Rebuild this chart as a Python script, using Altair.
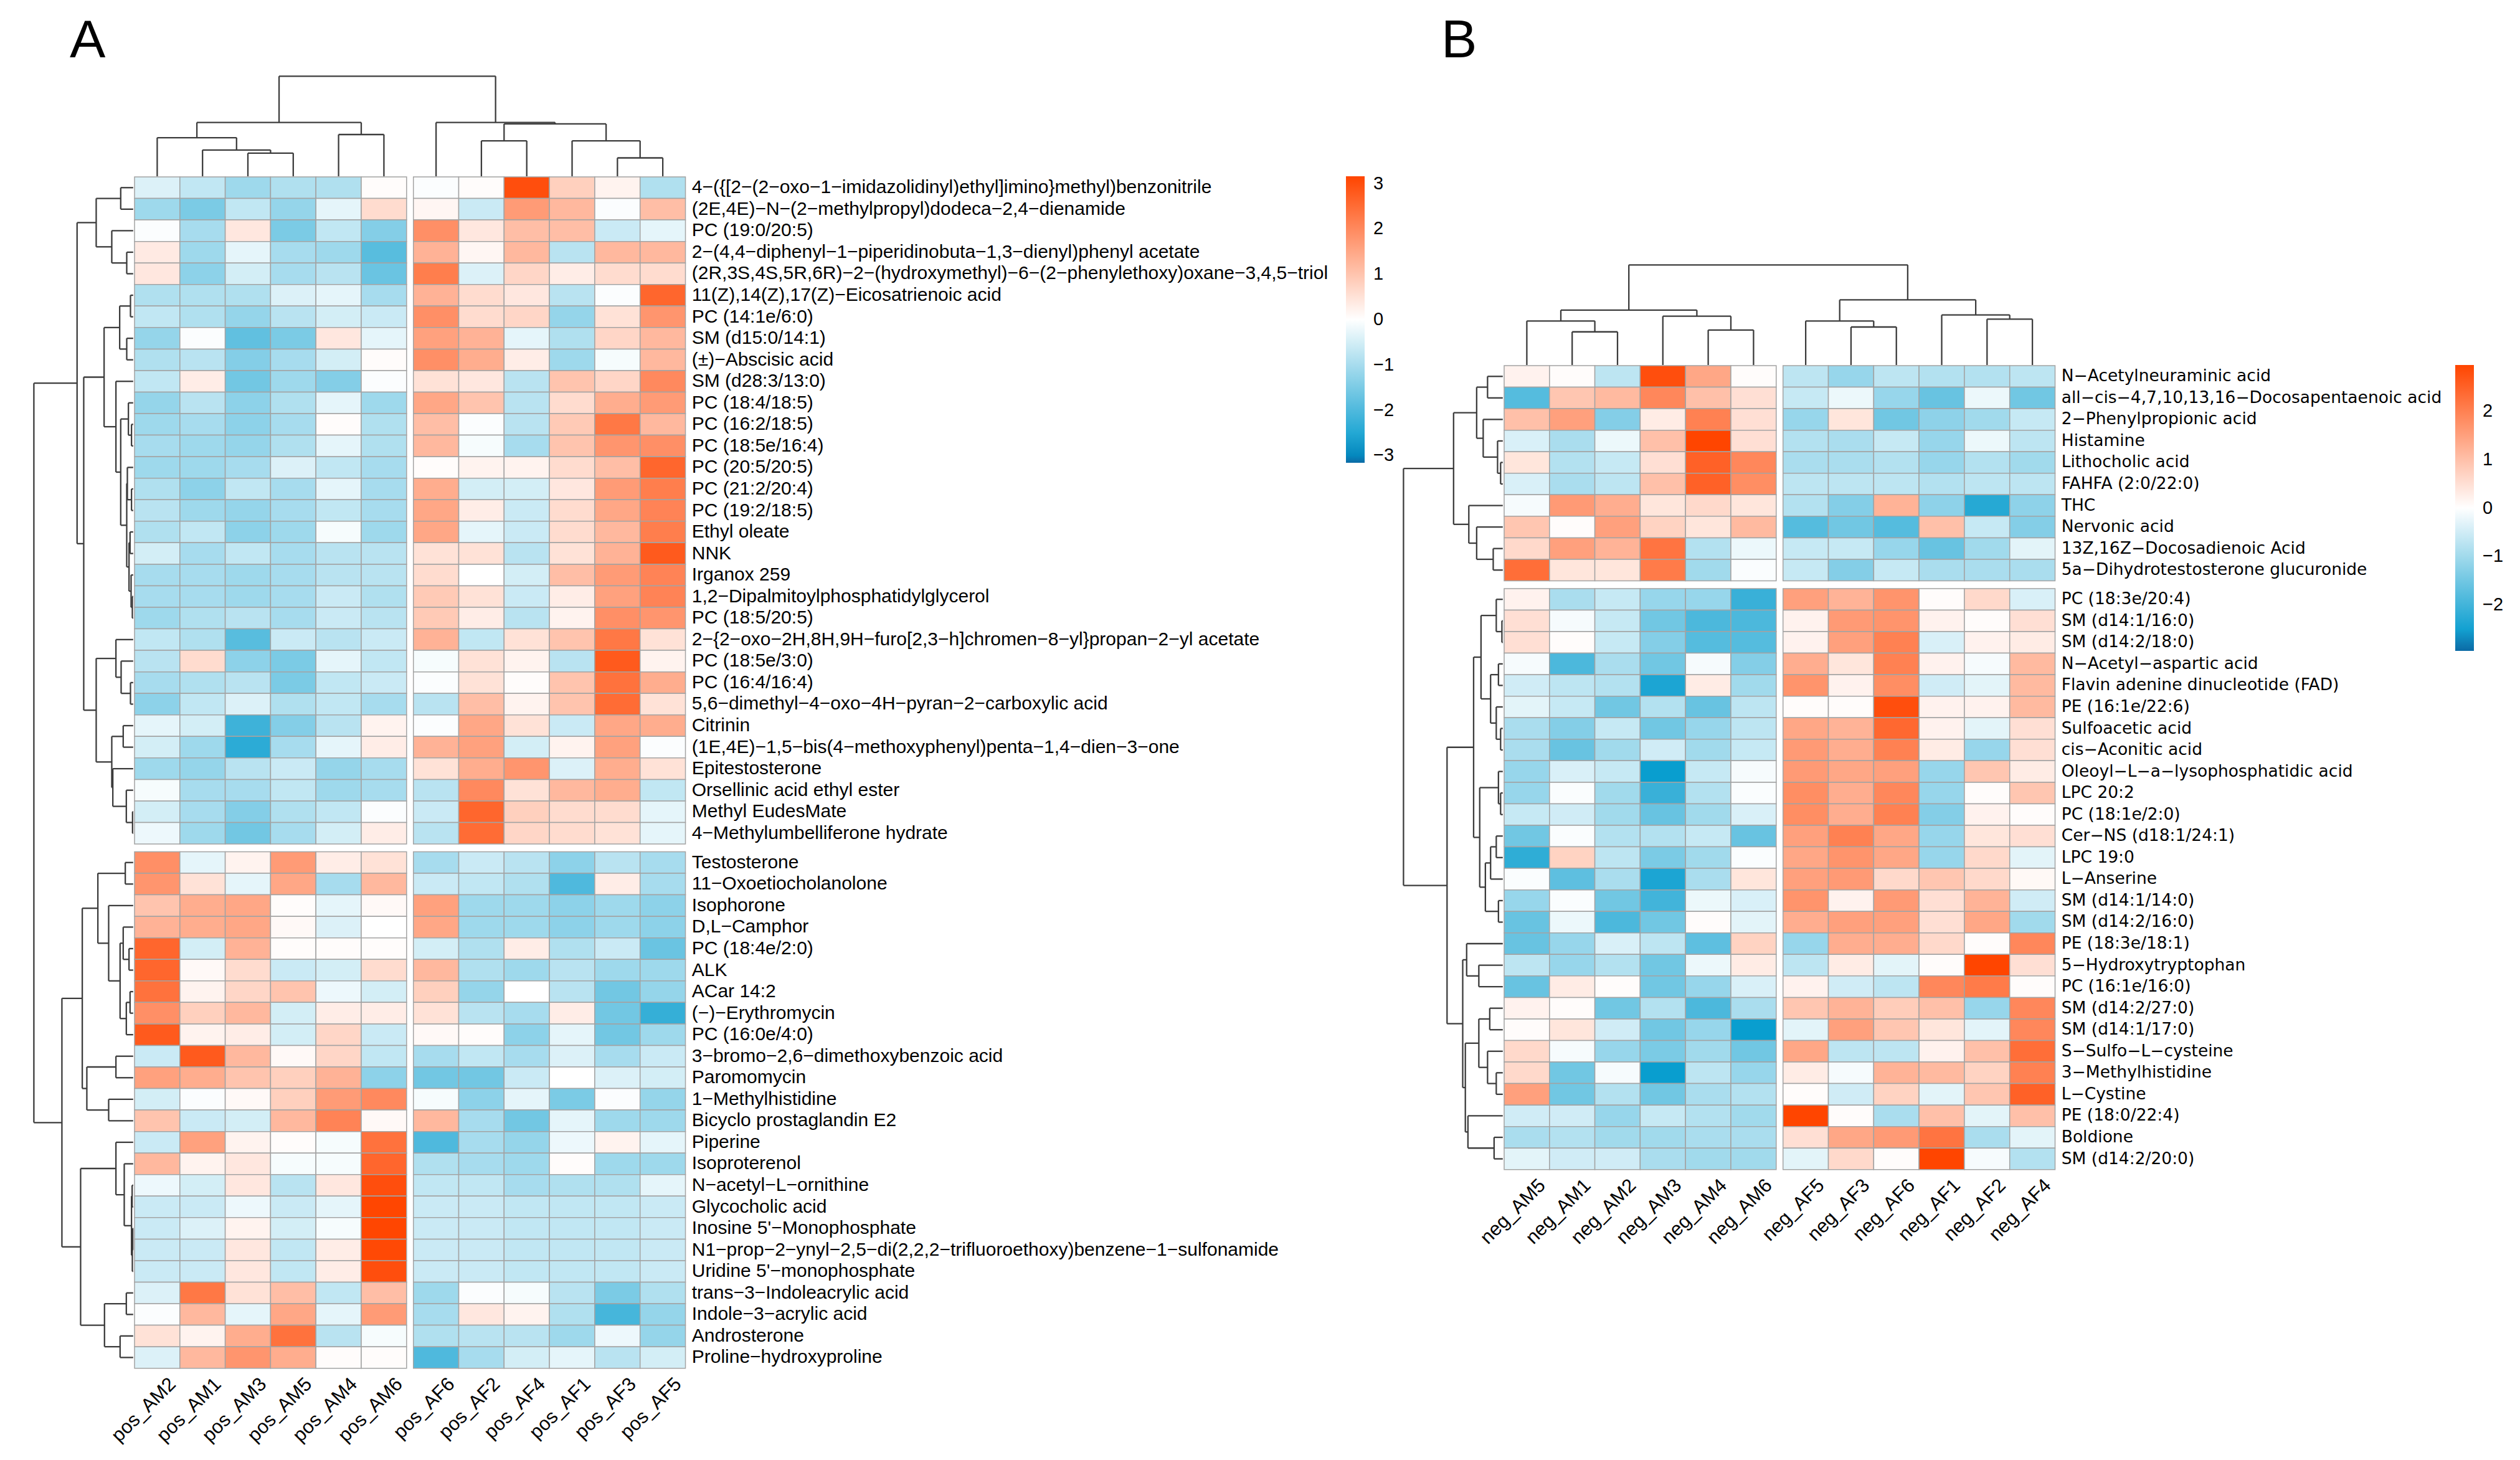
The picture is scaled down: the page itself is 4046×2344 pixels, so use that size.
import altair as alt
import pandas as pd

# ---------------- data ----------------
A_cols = ["pos_AM2", "pos_AM1", "pos_AM3", "pos_AM5", "pos_AM4", "pos_AM6",
          "pos_AF6", "pos_AF2", "pos_AF4", "pos_AF1", "pos_AF3", "pos_AF5"]
A_rows = [
    "4-({[2-(2-oxo-1-imidazolidinyl)ethyl]imino}methyl)benzonitrile",
    "(2E,4E)-N-(2-methylpropyl)dodeca-2,4-dienamide",
    "PC (19:0/20:5)",
    "2-(4,4-diphenyl-1-piperidinobuta-1,3-dienyl)phenyl acetate",
    "(2R,3S,4S,5R,6R)-2-(hydroxymethyl)-6-(2-phenylethoxy)oxane-3,4,5-triol",
    "11(Z),14(Z),17(Z)-Eicosatrienoic acid",
    "PC (14:1e/6:0)",
    "SM (d15:0/14:1)",
    "(±)-Abscisic acid",
    "SM (d28:3/13:0)",
    "PC (18:4/18:5)",
    "PC (16:2/18:5)",
    "PC (18:5e/16:4)",
    "PC (20:5/20:5)",
    "PC (21:2/20:4)",
    "PC (19:2/18:5)",
    "Ethyl oleate",
    "NNK",
    "Irganox 259",
    "1,2-Dipalmitoylphosphatidylglycerol",
    "PC (18:5/20:5)",
    "2-{2-oxo-2H,8H,9H-furo[2,3-h]chromen-8-yl}propan-2-yl acetate",
    "PC (18:5e/3:0)",
    "PC (16:4/16:4)",
    "5,6-dimethyl-4-oxo-4H-pyran-2-carboxylic acid",
    "Citrinin",
    "(1E,4E)-1,5-bis(4-methoxyphenyl)penta-1,4-dien-3-one",
    "Epitestosterone",
    "Orsellinic acid ethyl ester",
    "Methyl EudesMate",
    "4-Methylumbelliferone hydrate",
    "Testosterone",
    "11-Oxoetiocholanolone",
    "Isophorone",
    "D,L-Camphor",
    "PC (18:4e/2:0)",
    "ALK",
    "ACar 14:2",
    "(-)-Erythromycin",
    "PC (16:0e/4:0)",
    "3-bromo-2,6-dimethoxybenzoic acid",
    "Paromomycin",
    "1-Methylhistidine",
    "Bicyclo prostaglandin E2",
    "Piperine",
    "Isoproterenol",
    "N-acetyl-L-ornithine",
    "Glycocholic acid",
    "Inosine 5'-Monophosphate",
    "N1-prop-2-ynyl-2,5-di(2,2,2-trifluoroethoxy)benzene-1-sulfonamide",
    "Uridine 5'-monophosphate",
    "trans-3-Indoleacrylic acid",
    "Indole-3-acrylic acid",
    "Androsterone",
    "Proline-hydroxyproline",
]
A_vals = [
    [-0.4, -0.7, -1.1, -0.9, -0.9, 0.05, -0.05, 0.05, 3.0, 0.8, 0.2, -0.9],
    [-1.1, -1.5, -0.7, -1.2, -0.3, 0.6, 0.15, -0.6, 1.7, 1.2, -0.05, 1.1],
    [-0.05, -1.0, 0.4, -1.5, -0.7, -1.4, 1.9, 0.4, 1.1, 1.1, -0.6, -0.3],
    [0.35, -1.1, -0.3, -1.0, -1.1, -1.9, 1.3, 0.15, 1.2, -0.8, 1.2, 1.2],
    [0.4, -1.3, -0.5, -1.0, -0.8, -1.7, 2.2, -0.4, 0.7, 0.3, 0.6, 0.6],
    [-0.9, -0.9, -0.9, -0.4, -0.3, -1.0, 1.3, 0.6, 0.4, -0.8, -0.05, 2.6],
    [-0.7, -0.9, -1.2, -0.8, -0.5, -0.6, 1.9, 0.6, 0.7, -1.2, 0.5, 1.8],
    [-1.2, -0.05, -1.8, -1.5, 0.4, -0.3, 1.6, 1.3, -0.3, -0.9, 0.7, 1.2],
    [-0.9, -0.8, -1.4, -1.0, -0.5, 0.05, 1.9, 1.4, 0.3, -1.1, -0.1, 1.2],
    [-0.7, 0.3, -1.6, -1.1, -1.4, -0.05, 0.5, 0.4, -0.8, 1.0, 0.7, 2.0],
    [-1.2, -0.8, -1.3, -0.9, -0.3, -1.1, 1.5, 1.0, -0.8, 0.6, 1.4, 1.7],
    [-1.1, -1.0, -1.3, -1.0, 0.05, -0.9, 1.1, -0.05, -0.8, 0.9, 2.3, 1.2],
    [-1.0, -1.1, -1.2, -0.9, -0.3, -0.9, 1.2, -0.1, -1.0, 1.0, 1.8, 1.9],
    [-1.1, -1.1, -1.0, -0.4, -0.7, -1.0, 0.05, 0.2, 0.2, 0.6, 1.1, 2.6],
    [-0.9, -1.3, -0.7, -1.0, -0.3, -1.0, 1.4, -0.5, -0.5, 0.4, 1.7, 2.2],
    [-0.8, -1.1, -1.2, -1.0, -0.7, -1.0, 1.5, 0.3, -0.6, 0.6, 1.5, 2.1],
    [-0.9, -0.7, -1.3, -1.1, -0.1, -1.1, 1.5, -0.3, -0.6, 0.6, 1.2, 2.2],
    [-0.5, -1.0, -0.7, -1.0, -0.8, -0.8, 0.5, 0.5, -0.8, 0.5, 1.3, 2.8],
    [-1.0, -1.0, -1.1, -1.0, -0.8, -0.8, 0.6, 0.0, -0.5, 1.1, 1.7, 2.1],
    [-1.0, -1.0, -1.1, -1.0, -0.6, -0.9, 0.9, 0.5, -0.6, 0.3, 1.6, 2.1],
    [-1.1, -0.9, -0.8, -1.0, -0.6, -0.8, 0.9, 0.3, -0.8, 0.2, 1.9, 1.8],
    [-0.7, -0.9, -1.9, -0.6, -0.8, -0.6, 1.3, -0.7, 0.5, 1.0, 2.3, 0.5],
    [-0.8, 0.6, -1.3, -1.5, -0.3, -0.7, -0.1, 0.5, 0.2, -0.8, 2.8, 0.2],
    [-1.0, -0.9, -0.8, -1.5, -0.7, -0.6, -0.05, 0.5, 0.05, 1.0, 2.4, 1.4],
    [-1.3, -0.7, -0.4, -0.9, -0.7, -1.0, -0.8, 1.1, 0.2, 1.0, 2.5, 0.5],
    [-0.3, -0.5, -2.2, -1.4, -0.8, 0.2, -0.05, 1.5, 0.5, -0.6, 1.5, 1.4],
    [-0.5, -1.1, -2.4, -1.0, -0.3, 0.3, 1.3, 1.6, -0.5, 0.2, 1.6, -0.05],
    [-1.1, -1.2, -0.8, -0.6, -1.2, -1.0, 0.5, 1.4, 1.8, -0.4, 1.4, 0.5],
    [-0.1, -1.0, -1.0, -0.7, -1.1, -1.0, -0.8, 2.0, 0.5, 1.2, 1.4, -0.7],
    [-0.5, -1.0, -1.4, -0.9, -0.7, -0.05, -0.6, 2.6, 0.8, 0.6, 0.6, -0.3],
    [-0.2, -1.1, -1.6, -1.0, -0.5, 0.3, -0.8, 2.5, 0.7, 0.6, 0.5, -0.3],
    [1.9, -0.3, 0.2, 1.7, 0.3, 0.5, -1.0, -0.6, -0.8, -1.3, -0.8, -1.0],
    [1.8, 0.5, -0.3, 1.5, -1.0, 1.2, -0.6, -0.7, -0.9, -2.0, 0.3, -1.0],
    [1.0, 1.4, 1.5, 0.05, -0.3, 0.1, 1.6, -1.1, -1.1, -1.3, -1.1, -1.3],
    [1.3, 1.4, 1.5, 0.1, -0.4, 0.0, 1.5, -1.1, -1.1, -1.3, -1.1, -1.3],
    [2.6, -0.5, 1.3, 0.05, 0.05, 0.05, -0.5, -0.9, 0.3, -0.9, -0.6, -1.7],
    [2.6, 0.1, 0.6, -0.6, -0.5, 0.6, 1.2, -0.9, -1.1, -0.8, -1.1, -1.1],
    [2.4, 0.2, 0.7, 1.0, -0.2, -0.5, 0.8, -1.2, 0.0, -0.8, -1.6, -1.2],
    [1.9, 0.8, 1.2, -0.5, 0.3, 0.3, 0.5, -0.8, -1.0, 0.3, -1.6, -2.3],
    [2.8, 0.2, 0.3, -0.5, 0.7, -0.6, 0.1, 0.05, -1.3, -0.3, -1.6, -1.1],
    [-0.6, 2.8, 1.2, 0.1, 0.7, -0.7, -1.0, -0.7, -1.0, -0.4, -1.0, -0.6],
    [1.6, 1.4, 1.0, 0.8, 1.3, -1.3, -1.6, -1.6, -0.6, 0.0, -0.4, -0.5],
    [-0.5, -0.05, 0.1, 0.8, 1.7, 2.0, -0.1, -1.3, -0.3, -1.5, -0.05, -1.2],
    [1.0, -0.6, -0.5, 1.2, 2.1, 0.1, 1.2, -1.0, -1.6, -0.3, -1.1, -1.1],
    [-0.6, 1.6, 0.2, 0.05, -0.1, 2.4, -2.0, -1.0, -1.2, -0.2, 0.2, -0.3],
    [1.2, 0.2, 0.4, -0.1, -0.1, 2.6, -0.9, -1.0, -1.1, 0.05, -1.1, -1.1],
    [-0.2, -0.5, 0.4, -0.8, 0.4, 3.0, -0.7, -0.7, -1.0, -0.9, -0.9, -0.3],
    [-0.6, -0.6, -0.2, -0.6, -0.3, 3.15, -0.6, -0.6, -0.7, -0.7, -0.7, -0.6],
    [-0.6, -0.4, 0.2, -0.5, -0.1, 3.15, -0.6, -0.6, -0.7, -0.7, -0.7, -0.6],
    [-0.6, -0.6, 0.4, -0.7, 0.3, 3.1, -0.6, -0.6, -0.7, -0.7, -0.7, -0.6],
    [-0.6, -0.6, 0.4, -0.7, 0.3, 3.0, -0.6, -0.6, -0.7, -0.7, -0.7, -0.6],
    [-0.4, 2.3, 0.5, 1.1, -0.7, 1.1, -1.1, -0.05, -0.1, -0.8, -1.5, -0.9],
    [-0.05, 1.2, -0.3, 1.5, -0.3, 1.7, -1.0, 0.4, 0.2, -0.9, -2.1, -1.2],
    [0.5, 0.2, 1.4, 2.4, -0.8, -0.1, -0.9, -0.8, -0.8, -1.1, -0.2, -1.2],
    [-0.4, 1.2, 1.8, 1.4, 0.05, 0.05, -2.0, -1.0, -0.5, -0.3, -0.8, -0.5],
]

B_cols = ["neg_AM5", "neg_AM1", "neg_AM2", "neg_AM3", "neg_AM4", "neg_AM6",
          "neg_AF5", "neg_AF3", "neg_AF6", "neg_AF1", "neg_AF2", "neg_AF4"]
B_rows = [
    "N-Acetylneuraminic acid",
    "all-cis-4,7,10,13,16-Docosapentaenoic acid",
    "2-Phenylpropionic acid",
    "Histamine",
    "Lithocholic acid",
    "FAHFA (2:0/22:0)",
    "THC",
    "Nervonic acid",
    "13Z,16Z-Docosadienoic Acid",
    "5a-Dihydrotestosterone glucuronide",
    "PC (18:3e/20:4)",
    "SM (d14:1/16:0)",
    "SM (d14:2/18:0)",
    "N-Acetyl-aspartic acid",
    "Flavin adenine dinucleotide (FAD)",
    "PE (16:1e/22:6)",
    "Sulfoacetic acid",
    "cis-Aconitic acid",
    "Oleoyl-L-a-lysophosphatidic acid",
    "LPC 20:2",
    "PC (18:1e/2:0)",
    "Cer-NS (d18:1/24:1)",
    "LPC 19:0",
    "L-Anserine",
    "SM (d14:1/14:0)",
    "SM (d14:2/16:0)",
    "PE (18:3e/18:1)",
    "5-Hydroxytryptophan",
    "PC (16:1e/16:0)",
    "SM (d14:2/27:0)",
    "SM (d14:1/17:0)",
    "S-Sulfo-L-cysteine",
    "3-Methylhistidine",
    "L-Cystine",
    "PE (18:0/22:4)",
    "Boldione",
    "SM (d14:2/20:0)",
]
B_vals = [
    [0.2, 0.05, -0.7, 2.8, 1.4, 0.05, -0.7, -1.1, -0.7, -0.8, -0.8, -0.7],
    [-1.8, 0.9, 1.1, 1.9, 1.0, 0.5, -0.6, -0.2, -1.1, -1.6, -0.2, -1.5],
    [1.0, 1.5, -1.3, 0.3, 2.0, 0.5, -1.1, 0.4, -1.5, -1.2, -1.0, -0.6],
    [-0.4, -0.9, -0.2, 1.0, 2.95, 0.5, -0.8, -0.9, -0.6, -1.1, -0.2, -0.7],
    [0.4, -0.8, -0.6, 0.5, 2.5, 1.9, -0.9, -0.9, -0.8, -1.1, -0.8, -1.0],
    [-0.4, -0.9, -0.7, 1.0, 2.5, 1.8, -0.7, -0.7, -0.7, -0.8, -0.7, -0.7],
    [-0.1, 1.6, 1.3, 0.4, 0.6, 0.4, -0.8, -1.3, 1.2, -1.2, -2.3, -1.2],
    [0.9, 0.05, 1.5, 0.7, 0.4, 1.1, -1.8, -1.5, -1.8, 1.0, -0.6, -1.3],
    [0.6, 1.5, 1.2, 2.2, -0.8, -0.2, -0.6, -0.6, -1.1, -1.6, -1.0, -0.3],
    [2.3, 0.4, 0.4, 2.1, -1.0, -0.05, -0.6, -1.3, -0.6, -0.9, -0.9, -0.9],
    [0.2, -0.9, -0.6, -1.1, -1.1, -2.1, 1.5, 1.2, 1.7, 0.05, 0.6, -0.4],
    [0.5, -0.1, -0.6, -1.5, -1.9, -1.9, 0.2, 1.6, 1.7, 0.2, 0.05, 0.5],
    [0.5, 0.05, -0.6, -1.3, -1.8, -1.8, 0.2, 1.5, 2.0, -0.4, 0.2, 0.3],
    [-0.1, -1.9, -0.9, -1.5, -0.1, -1.3, 1.3, 0.4, 2.0, 0.2, -0.1, 1.1],
    [-0.5, -0.7, -0.8, -2.4, 0.3, -1.0, 1.7, 0.2, 1.8, -0.5, -0.3, 1.1],
    [-0.3, -0.6, -1.5, -0.8, -1.6, -0.7, 0.05, 0.05, 2.8, 0.2, 0.2, 1.1],
    [-0.9, -1.3, -0.6, -1.5, -1.1, -0.7, 1.4, 1.2, 2.4, 0.2, -0.3, 0.5],
    [-0.9, -1.6, -1.0, -0.5, -1.0, -0.6, 1.6, 1.3, 2.0, 0.3, -1.1, 0.5],
    [-1.1, -0.4, -0.6, -2.6, -0.6, -0.1, 1.6, 1.4, 1.5, -1.1, 0.9, 0.3],
    [-1.1, -0.05, -1.0, -2.1, -0.8, -0.05, 1.8, 1.3, 1.9, -1.1, 0.05, 0.9],
    [-0.6, -0.5, -1.0, -1.6, -1.0, -0.4, 1.8, 1.3, 2.0, -1.3, 0.2, 0.05],
    [-1.5, -0.05, -0.8, -0.8, -0.6, -1.6, 1.5, 2.0, 1.4, -1.1, 0.4, 0.5],
    [-2.2, 0.7, -0.7, -1.4, -1.0, -0.05, 1.4, 1.7, 1.4, -1.1, 0.6, -0.3],
    [-0.05, -1.7, -0.9, -2.4, -0.9, 0.4, 1.5, 1.6, 0.6, 0.9, 0.6, 0.1],
    [-1.1, -0.05, -1.5, -2.0, -0.2, -0.4, 1.7, 0.2, 1.6, 0.5, 1.2, -0.5],
    [-1.6, -0.2, -1.9, -1.5, 0.05, -0.3, 1.3, 1.5, 1.5, 0.5, 1.4, -1.0],
    [-1.6, -1.1, -0.4, -0.7, -1.7, 0.7, -1.1, 1.3, 1.3, 0.6, 0.05, 1.9],
    [-0.7, -1.1, -0.8, -1.5, -0.2, 0.3, -0.7, 0.3, -0.3, 0.05, 2.95, 0.5],
    [-1.6, 0.3, 0.05, -1.5, -1.1, -0.4, 0.2, -0.5, -0.7, 1.9, 2.1, 0.05],
    [0.2, 0.05, -1.5, -0.8, -1.9, -0.9, 0.9, 1.2, 0.8, 1.0, -1.1, 1.9],
    [0.05, 0.4, -0.5, -1.5, -1.1, -2.6, -0.3, 1.5, 0.9, 0.4, -0.3, 1.9],
    [0.6, -0.1, -1.1, -1.4, -1.0, -1.5, 1.4, -0.7, -0.7, 0.2, 1.0, 2.3],
    [0.6, -1.5, -0.1, -2.6, -0.7, -1.1, 0.3, -0.1, 1.2, 1.1, 0.7, 2.0],
    [1.5, -1.5, -0.8, -1.5, -0.9, -0.8, 0.05, -0.5, 0.7, -0.3, 0.9, 2.5],
    [-0.5, -0.5, -1.1, -0.6, -0.8, -1.0, 2.95, 0.05, -0.9, 1.0, -0.3, 1.0],
    [-0.9, -0.8, -1.0, -1.0, -0.9, -0.9, 0.5, 1.4, 1.6, 2.2, -0.9, -0.3],
    [-0.3, -0.5, -0.5, -0.9, -1.0, -1.0, -0.3, 0.6, 0.05, 2.95, -0.1, -0.8],
]

# cluster trees: [left, right, merge height]; leaves are display-order indices
A_col_tree = [[[0, [1, [2, 3, 111], 126], 185], [4, 5, 200], 258],
              [6, [[7, 8, 170], [9, [10, 11, 88], 170], 251], 258], 480]
B_col_tree = [[[0, [1, 2, 55], 73], [3, [4, 5, 58], 81], 91],
              [[6, [7, 8, 63], 73], [9, [10, 11, 76], 83], 108], 166]
A_row_tree = [
    [[[0, 1, 60], [2, [3, 4, 31], 103], 178],
     [[[[5, 6, 13], [7, 8, 31], 65],
       [9, [[10, [11, 12, 8], 23],
            [[13, [14, 15, 8], 28], [[16, 17, 15], [18, [19, 20, 4], 10], 20], 31], 60], 83], 140],
      [[21, [22, [23, 24, 13], 58], 83],
       [[25, 26, 48], [27, [28, [29, 30, 3], 33], 98], 103], 178], 238], 270],
    [[[[31, 32, 38], [33, [[34, [35, 36, 20], 48], [[37, 38, 15], 39, 33], 63], 118], 170],
      [[40, 41, 83], [42, 43, 118], 223], 245],
     [[44, [45, [[46, 47, 5], [[48, 49, 2], 50, 4], 8], 43], 83],
      [[51, 52, 33], [53, 54, 63], 138], 253], 343], 478]
B_row_tree = [
    [[[0, 1, 35], [2, [3, [4, 5, 5], 12], 45], 60],
     [6, [7, [8, 9, 22], 60], 78], 113],
    [[[[10, [11, 12, 2], 15], [[13, 14, 10], [15, [16, 17, 5], 15], 28], 50],
      [[18, [19, 20, 5], 10], [[[21, 22, 15], 23, 28], [24, 25, 10], 40], 53], 67],
     [[26, [27, 28, 55], 83],
      [[[29, 30, 30], [31, [32, 33, 15], 35], 55], [34, [35, 36, 20], 80], 86], 92], 128],
    228]

A_row_split, B_row_split, COL_SPLIT = 31, 10, 6
A_legend_values = [-3, -2, -1, 0, 1, 2, 3]
B_legend_values = [-2, -1, 0, 1, 2]
A_color_domain = [-3.16, -2.9, 0, 3.16]
B_color_domain = [-2.95, -2.7, 0, 2.95]
COLOR_RANGE = ["#0b6aa5", "#009acd", "#ffffff", "#ff4500"]

# ---------------- layout (cell units) ----------------
FONT = "Liberation Sans, Arial, sans-serif"
W, H = 4030, 2328
UX, UY = 72.8, 34.55         # px per column / per row
X0, Y0 = 216.0, 284.0        # page px of panel A heatmap origin
def ux(px): return (px - X0) / UX
def uy(py): return (py - Y0) / UY
XDOM = [ux(8), ux(8 + W)]
YDOM = [uy(8), uy(8 + H)]
CGAP, RGAP = 0.15, 0.36
BX, BY = ux(2415), uy(587)
TOP_DEPTH, LEFT_DEPTH = 4.65, 2.19

def cpos(i): return i + (CGAP if i >= COL_SPLIT else 0.0)
def rpos(r, split): return r + (RGAP if r >= split else 0.0)

def dendro(tree, leafpos):
    segs = []
    def rec(node):
        if isinstance(node, int):
            return leafpos(node), 0.0
        l, r, h = node
        pl, hl = rec(l)
        pr, hr = rec(r)
        segs.append((pl, h, pr, h))
        segs.append((pl, hl, pl, h))
        segs.append((pr, hr, pr, h))
        return (pl + pr) / 2.0, h
    rec(tree)
    return segs, tree[2]

def top_dendro(tree, x0, ytop):
    segs, root = dendro(tree, lambda i: x0 + cpos(i) + 0.5)
    f = lambda h: ytop - 0.03 - h / root * TOP_DEPTH
    return pd.DataFrame([{"x": a, "y": f(b), "x2": c, "y2": f(d)} for a, b, c, d in segs])

def left_dendro(tree, xleft, y0, split):
    segs, root = dendro(tree, lambda r: y0 + rpos(r, split) + 0.5)
    f = lambda h: xleft - 0.03 - h / root * LEFT_DEPTH
    return pd.DataFrame([{"y": a, "x": f(b), "y2": c, "x2": f(d)} for a, b, c, d in segs])

def cells(vals, x0, y0, split):
    out = []
    for r, row in enumerate(vals):
        for c, v in enumerate(row):
            x = x0 + cpos(c)
            y = y0 + rpos(r, split)
            out.append({"x": x, "x2": x + 1, "y": y, "y2": y + 1, "z": v})
    return pd.DataFrame(out)

def disp(s): return s.replace("-", "\u2212")

def row_labels(rows, x0, y0, split):
    xl = x0 + cpos(11) + 1 + 0.14
    return pd.DataFrame([{"x": xl, "y": y0 + rpos(r, split) + 0.5, "t": disp(n)} for r, n in enumerate(rows)])

def col_labels(cols, x0, ybot):
    return pd.DataFrame([{"x": x0 + cpos(i) + 0.5 + 0.2, "y": ybot + 0.3, "t": n} for i, n in enumerate(cols)])

xs = alt.Scale(domain=XDOM, nice=False, zero=False)
ys = alt.Scale(domain=YDOM, nice=False, zero=False, reverse=True)
X = lambda f: alt.X(f + ":Q", scale=xs, axis=None)
Y = lambda f: alt.Y(f + ":Q", scale=ys, axis=None)

def heat(df, dom, vals, lx, ly, length):
    return alt.Chart(df).mark_rect(stroke="#a3a3a3", strokeWidth=1.5).encode(
        x=X("x"), x2="x2", y=Y("y"), y2="y2",
        color=alt.Color("z:Q", scale=alt.Scale(domain=dom, range=COLOR_RANGE, interpolate="rgb"),
                        legend=alt.Legend(title=None, orient="none", legendX=lx, legendY=ly,
                                          direction="vertical", gradientLength=length,
                                          gradientThickness=30, gradientStrokeWidth=0,
                                          labelFontSize=29, labelFont=FONT, labelColor="black",
                                          labelOffset=14, values=vals, labelOverlap=False,
                                          padding=0, offset=0)))

def rules(df):
    return alt.Chart(df).mark_rule(color="#3c3c3c", strokeWidth=2.3).encode(
        x=X("x"), x2="x2", y=Y("y"), y2="y2")

def texts(df, **kw):
    return alt.Chart(df).mark_text(color="black", **kw).encode(x=X("x"), y=Y("y"), text="t:N")

A_bottom = rpos(len(A_rows) - 1, A_row_split) + 1
B_bottom = BY + rpos(len(B_rows) - 1, B_row_split) + 1

letters = pd.DataFrame([{"x": ux(112), "y": uy(110), "t": "A"},
                        {"x": ux(2314), "y": uy(110), "t": "B"}])

chart = alt.layer(
    heat(cells(A_vals, 0, 0, A_row_split), A_color_domain, A_legend_values, 2153, 275, 460),
    heat(cells(B_vals, BX, BY, B_row_split), B_color_domain, B_legend_values, 3934, 578, 459),
    rules(top_dendro(A_col_tree, 0, 0)),
    rules(left_dendro(A_row_tree, 0, 0, A_row_split)),
    rules(top_dendro(B_col_tree, BX, BY)),
    rules(left_dendro(B_row_tree, BX, BY, B_row_split)),
    texts(row_labels(A_rows, 0, 0, A_row_split), align="left", baseline="middle", font=FONT, fontSize=30),
    texts(row_labels(B_rows, BX, BY, B_row_split), align="left", baseline="middle",
          font="DejaVu Sans, sans-serif", fontSize=26.5),
    texts(col_labels(A_cols, 0, A_bottom), align="right", baseline="top", angle=315, font=FONT, fontSize=31),
    texts(col_labels(B_cols, BX, B_bottom), align="right", baseline="top", angle=315, font=FONT, fontSize=31),
    texts(letters, align="left", baseline="bottom", font=FONT, fontSize=86),
).resolve_scale(color="independent").properties(
    width=W, height=H, padding=0, autosize=alt.AutoSizeParams(type="none"), background="white"
).configure_view(strokeWidth=0)

chart.save("out.html", embed_options={"renderer": "svg", "actions": False})
